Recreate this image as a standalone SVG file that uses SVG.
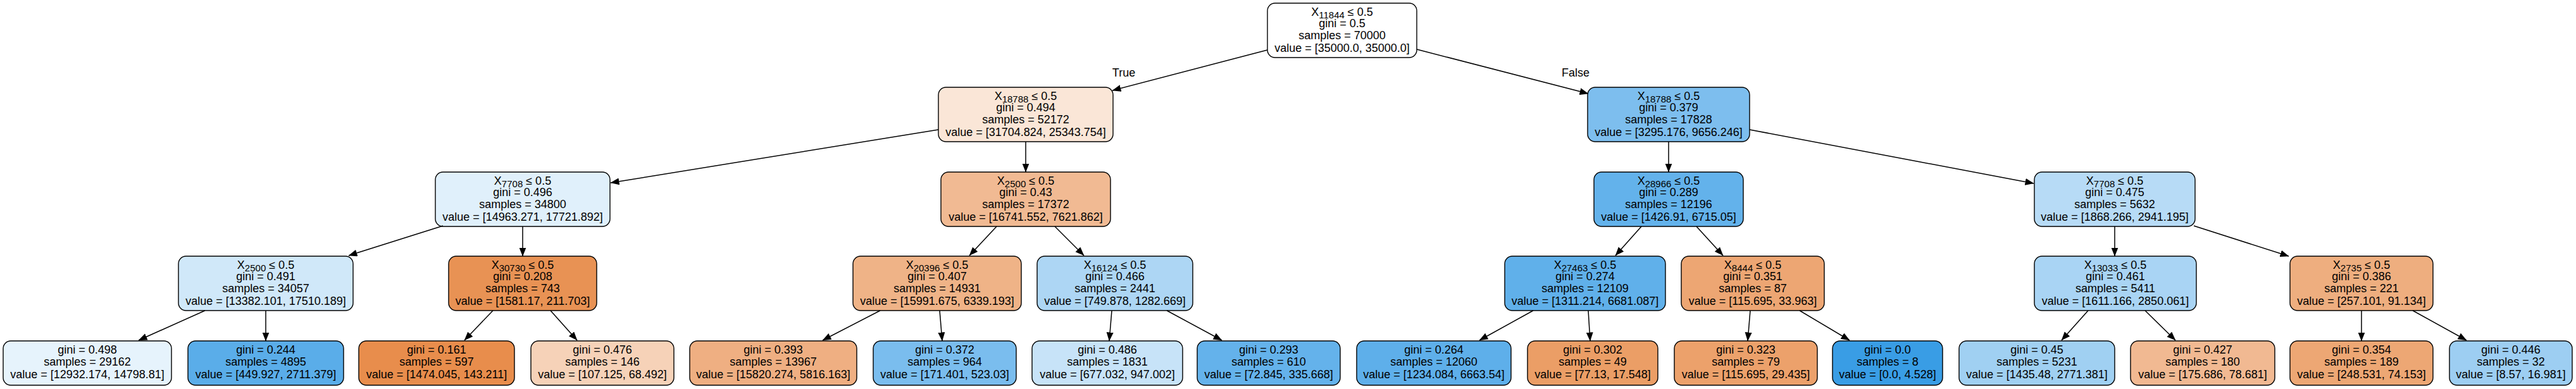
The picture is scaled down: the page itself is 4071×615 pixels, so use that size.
<svg xmlns="http://www.w3.org/2000/svg" width="4071" height="615" viewBox="0 0 4071 615">
<style>
.bg{fill:#ffffff}
.box{stroke:#000000;stroke-width:1.4}
text{font-family:"Liberation Sans",Arial,Helvetica,sans-serif;font-size:18px;fill:#000000;text-anchor:middle}
.s{font-size:15px}
.e{stroke:#000000;stroke-width:1.5;fill:none;marker-end:url(#arr)}
</style>
<defs>
<marker id="arr" markerUnits="userSpaceOnUse" markerWidth="15" markerHeight="12" refX="13.5" refY="5.5" orient="auto" viewBox="0 0 15 12">
<path d="M0,0 L14,5.5 L0,11 Z" fill="#000000"/>
</marker>
</defs>
<rect class="bg" x="0" y="0" width="4071" height="615"/>

<g id="n0"><rect class="box" x="2003" y="5" width="236" height="86" rx="12" fill="#ffffff"/>
<text x="2121" y="25">X<tspan class="s" dy="4">11844</tspan><tspan dy="-4"> ≤ 0.5</tspan></text>
<text x="2121" y="42.5">gini = 0.5</text><text x="2121" y="62">samples = 70000</text><text x="2121" y="81.5">value = [35000.0, 35000.0]</text></g>

<g id="n1"><rect class="box" x="1483" y="138" width="276" height="86" rx="12" fill="#fae6d7"/>
<text x="1621" y="158">X<tspan class="s" dy="4">18788</tspan><tspan dy="-4"> ≤ 0.5</tspan></text>
<text x="1621" y="175.5">gini = 0.494</text><text x="1621" y="195">samples = 52172</text><text x="1621" y="214.5">value = [31704.824, 25343.754]</text></g>

<g id="n16"><rect class="box" x="2509" y="138" width="256" height="86" rx="12" fill="#7dbeee"/>
<text x="2637" y="158">X<tspan class="s" dy="4">18788</tspan><tspan dy="-4"> ≤ 0.5</tspan></text>
<text x="2637" y="175.5">gini = 0.379</text><text x="2637" y="195">samples = 17828</text><text x="2637" y="214.5">value = [3295.176, 9656.246]</text></g>

<g id="n2"><rect class="box" x="688" y="272" width="276" height="86" rx="12" fill="#e0f0fb"/>
<text x="826" y="292">X<tspan class="s" dy="4">7708</tspan><tspan dy="-4"> ≤ 0.5</tspan></text>
<text x="826" y="309.5">gini = 0.496</text><text x="826" y="329">samples = 34800</text><text x="826" y="348.5">value = [14963.271, 17721.892]</text></g>

<g id="n9"><rect class="box" x="1487" y="272" width="268" height="86" rx="12" fill="#f1ba93"/>
<text x="1621" y="292">X<tspan class="s" dy="4">2500</tspan><tspan dy="-4"> ≤ 0.5</tspan></text>
<text x="1621" y="309.5">gini = 0.43</text><text x="1621" y="329">samples = 17372</text><text x="1621" y="348.5">value = [16741.552, 7621.862]</text></g>

<g id="n17"><rect class="box" x="2519" y="272" width="236" height="86" rx="12" fill="#63b2eb"/>
<text x="2637" y="292">X<tspan class="s" dy="4">28966</tspan><tspan dy="-4"> ≤ 0.5</tspan></text>
<text x="2637" y="309.5">gini = 0.289</text><text x="2637" y="329">samples = 12196</text><text x="2637" y="348.5">value = [1426.91, 6715.05]</text></g>

<g id="n24"><rect class="box" x="3215" y="272" width="254" height="86" rx="12" fill="#b7dbf6"/>
<text x="3342" y="292">X<tspan class="s" dy="4">7708</tspan><tspan dy="-4"> ≤ 0.5</tspan></text>
<text x="3342" y="309.5">gini = 0.475</text><text x="3342" y="329">samples = 5632</text><text x="3342" y="348.5">value = [1868.266, 2941.195]</text></g>

<g id="n3"><rect class="box" x="282" y="405" width="276" height="86" rx="12" fill="#d0e8f9"/>
<text x="420" y="425">X<tspan class="s" dy="4">2500</tspan><tspan dy="-4"> ≤ 0.5</tspan></text>
<text x="420" y="442.5">gini = 0.491</text><text x="420" y="462">samples = 34057</text><text x="420" y="481.5">value = [13382.101, 17510.189]</text></g>

<g id="n6"><rect class="box" x="709" y="405" width="234" height="86" rx="12" fill="#e89254"/>
<text x="826" y="425">X<tspan class="s" dy="4">30730</tspan><tspan dy="-4"> ≤ 0.5</tspan></text>
<text x="826" y="442.5">gini = 0.208</text><text x="826" y="462">samples = 743</text><text x="826" y="481.5">value = [1581.17, 211.703]</text></g>

<g id="n10"><rect class="box" x="1348" y="405" width="266" height="86" rx="12" fill="#efb387"/>
<text x="1481" y="425">X<tspan class="s" dy="4">20396</tspan><tspan dy="-4"> ≤ 0.5</tspan></text>
<text x="1481" y="442.5">gini = 0.407</text><text x="1481" y="462">samples = 14931</text><text x="1481" y="481.5">value = [15991.675, 6339.193]</text></g>

<g id="n13"><rect class="box" x="1639" y="405" width="246" height="86" rx="12" fill="#add6f4"/>
<text x="1762" y="425">X<tspan class="s" dy="4">16124</tspan><tspan dy="-4"> ≤ 0.5</tspan></text>
<text x="1762" y="442.5">gini = 0.466</text><text x="1762" y="462">samples = 2441</text><text x="1762" y="481.5">value = [749.878, 1282.669]</text></g>

<g id="n18"><rect class="box" x="2378" y="405" width="254" height="86" rx="12" fill="#60b0ea"/>
<text x="2505" y="425">X<tspan class="s" dy="4">27463</tspan><tspan dy="-4"> ≤ 0.5</tspan></text>
<text x="2505" y="442.5">gini = 0.274</text><text x="2505" y="462">samples = 12109</text><text x="2505" y="481.5">value = [1311.214, 6681.087]</text></g>

<g id="n21"><rect class="box" x="2657" y="405" width="226" height="86" rx="12" fill="#eda673"/>
<text x="2770" y="425">X<tspan class="s" dy="4">8444</tspan><tspan dy="-4"> ≤ 0.5</tspan></text>
<text x="2770" y="442.5">gini = 0.351</text><text x="2770" y="462">samples = 87</text><text x="2770" y="481.5">value = [115.695, 33.963]</text></g>

<g id="n25"><rect class="box" x="3215" y="405" width="256" height="86" rx="12" fill="#a9d4f4"/>
<text x="3343" y="425">X<tspan class="s" dy="4">13033</tspan><tspan dy="-4"> ≤ 0.5</tspan></text>
<text x="3343" y="442.5">gini = 0.461</text><text x="3343" y="462">samples = 5411</text><text x="3343" y="481.5">value = [1611.166, 2850.061]</text></g>

<g id="n28"><rect class="box" x="3619" y="405" width="226" height="86" rx="12" fill="#eeae7f"/>
<text x="3732" y="425">X<tspan class="s" dy="4">2735</tspan><tspan dy="-4"> ≤ 0.5</tspan></text>
<text x="3732" y="442.5">gini = 0.386</text><text x="3732" y="462">samples = 221</text><text x="3732" y="481.5">value = [257.101, 91.134]</text></g>

<g id="n4"><rect class="box" x="5" y="539" width="266" height="70" rx="12" fill="#e6f3fc"/>
<text x="138" y="558.5">gini = 0.498</text><text x="138" y="578">samples = 29162</text><text x="138" y="597.5">value = [12932.174, 14798.81]</text></g>

<g id="n5"><rect class="box" x="297" y="539" width="246" height="70" rx="12" fill="#5aade9"/>
<text x="420" y="558.5">gini = 0.244</text><text x="420" y="578">samples = 4895</text><text x="420" y="597.5">value = [449.927, 2711.379]</text></g>

<g id="n7"><rect class="box" x="567" y="539" width="246" height="70" rx="12" fill="#e88d4c"/>
<text x="690" y="558.5">gini = 0.161</text><text x="690" y="578">samples = 597</text><text x="690" y="597.5">value = [1474.045, 143.211]</text></g>

<g id="n8"><rect class="box" x="839" y="539" width="226" height="70" rx="12" fill="#f6d2b8"/>
<text x="952" y="558.5">gini = 0.476</text><text x="952" y="578">samples = 146</text><text x="952" y="597.5">value = [107.125, 68.492]</text></g>

<g id="n11"><rect class="box" x="1090" y="539" width="264" height="70" rx="12" fill="#efaf82"/>
<text x="1222" y="558.5">gini = 0.393</text><text x="1222" y="578">samples = 13967</text><text x="1222" y="597.5">value = [15820.274, 5816.163]</text></g>

<g id="n12"><rect class="box" x="1380" y="539" width="226" height="70" rx="12" fill="#7abdee"/>
<text x="1493" y="558.5">gini = 0.372</text><text x="1493" y="578">samples = 964</text><text x="1493" y="597.5">value = [171.401, 523.03]</text></g>

<g id="n14"><rect class="box" x="1631" y="539" width="238" height="70" rx="12" fill="#c7e3f8"/>
<text x="1750" y="558.5">gini = 0.486</text><text x="1750" y="578">samples = 1831</text><text x="1750" y="597.5">value = [677.032, 947.002]</text></g>

<g id="n15"><rect class="box" x="1892" y="539" width="226" height="70" rx="12" fill="#64b2eb"/>
<text x="2005" y="558.5">gini = 0.293</text><text x="2005" y="578">samples = 610</text><text x="2005" y="597.5">value = [72.845, 335.668]</text></g>

<g id="n19"><rect class="box" x="2144" y="539" width="244" height="70" rx="12" fill="#5eafea"/>
<text x="2266" y="558.5">gini = 0.264</text><text x="2266" y="578">samples = 12060</text><text x="2266" y="597.5">value = [1234.084, 6663.54]</text></g>

<g id="n20"><rect class="box" x="2414" y="539" width="206" height="70" rx="12" fill="#eb9e66"/>
<text x="2517" y="558.5">gini = 0.302</text><text x="2517" y="578">samples = 49</text><text x="2517" y="597.5">value = [77.13, 17.548]</text></g>

<g id="n22"><rect class="box" x="2646" y="539" width="226" height="70" rx="12" fill="#eca16b"/>
<text x="2759" y="558.5">gini = 0.323</text><text x="2759" y="578">samples = 79</text><text x="2759" y="597.5">value = [115.695, 29.435]</text></g>

<g id="n23"><rect class="box" x="2896" y="539" width="174" height="70" rx="12" fill="#399de5"/>
<text x="2983" y="558.5">gini = 0.0</text><text x="2983" y="578">samples = 8</text><text x="2983" y="597.5">value = [0.0, 4.528]</text></g>

<g id="n26"><rect class="box" x="3096" y="539" width="246" height="70" rx="12" fill="#a0d0f2"/>
<text x="3219" y="558.5">gini = 0.45</text><text x="3219" y="578">samples = 5231</text><text x="3219" y="597.5">value = [1435.48, 2771.381]</text></g>

<g id="n27"><rect class="box" x="3367" y="539" width="228" height="70" rx="12" fill="#f1b992"/>
<text x="3481" y="558.5">gini = 0.427</text><text x="3481" y="578">samples = 180</text><text x="3481" y="597.5">value = [175.686, 78.681]</text></g>

<g id="n29"><rect class="box" x="3619" y="539" width="226" height="70" rx="12" fill="#eda774"/>
<text x="3732" y="558.5">gini = 0.354</text><text x="3732" y="578">samples = 189</text><text x="3732" y="597.5">value = [248.531, 74.153]</text></g>

<g id="n30"><rect class="box" x="3871" y="539" width="194" height="70" rx="12" fill="#9dcef2"/>
<text x="3968" y="558.5">gini = 0.446</text><text x="3968" y="578">samples = 32</text><text x="3968" y="597.5">value = [8.57, 16.981]</text></g>

<g id="edges">
<line class="e" x1="2003" y1="79" x2="1758" y2="143"/>
<line class="e" x1="2239" y1="78" x2="2510" y2="148"/>
<text x="1776" y="121">True</text>
<text x="2490" y="121">False</text>
<line class="e" x1="1483" y1="205" x2="965" y2="289"/>
<line class="e" x1="1621" y1="224" x2="1621" y2="272"/>
<line class="e" x1="2637" y1="224" x2="2637" y2="272"/>
<line class="e" x1="2765" y1="205" x2="3214" y2="290"/>
<line class="e" x1="700" y1="357" x2="551" y2="404"/>
<line class="e" x1="826" y1="358" x2="826" y2="405"/>
<line class="e" x1="1575" y1="358" x2="1532" y2="404"/>
<line class="e" x1="1667" y1="358" x2="1713" y2="404"/>
<line class="e" x1="2594" y1="358" x2="2553" y2="404"/>
<line class="e" x1="2681" y1="358" x2="2723" y2="404"/>
<line class="e" x1="3342" y1="358" x2="3342" y2="405"/>
<line class="e" x1="3467" y1="357" x2="3617" y2="405"/>
<line class="e" x1="324" y1="491" x2="219" y2="538"/>
<line class="e" x1="420" y1="491" x2="420" y2="539"/>
<line class="e" x1="779" y1="491" x2="734" y2="538"/>
<line class="e" x1="870" y1="491" x2="912" y2="538"/>
<line class="e" x1="1391" y1="491" x2="1300" y2="538"/>
<line class="e" x1="1485" y1="491" x2="1489" y2="539"/>
<line class="e" x1="1757" y1="491" x2="1753" y2="539"/>
<line class="e" x1="1844" y1="491" x2="1931" y2="538"/>
<line class="e" x1="2423" y1="491" x2="2338" y2="538"/>
<line class="e" x1="2510" y1="491" x2="2513" y2="539"/>
<line class="e" x1="2766" y1="491" x2="2762" y2="539"/>
<line class="e" x1="2844" y1="491" x2="2923" y2="538"/>
<line class="e" x1="3300" y1="491" x2="3258" y2="538"/>
<line class="e" x1="3390" y1="491" x2="3438" y2="538"/>
<line class="e" x1="3732" y1="491" x2="3732" y2="539"/>
<line class="e" x1="3813" y1="491" x2="3898" y2="538"/>
</g>
</svg>
